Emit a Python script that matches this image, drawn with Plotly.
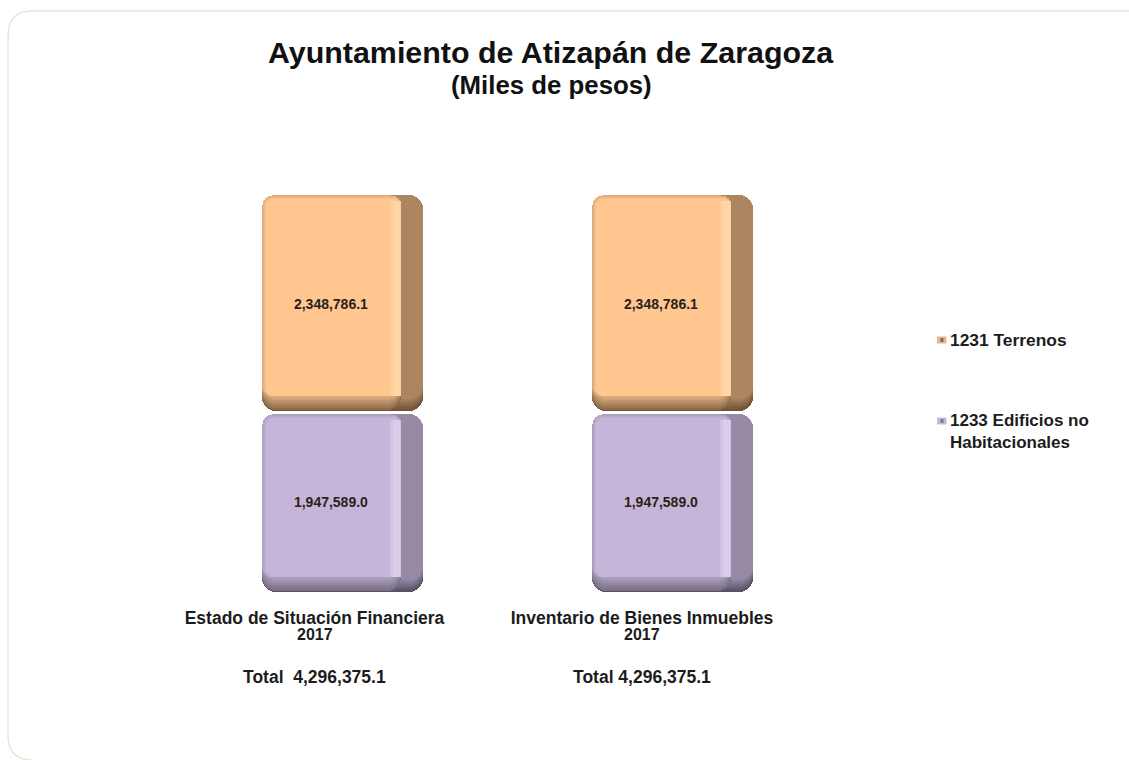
import plotly.graph_objects as go

# ---- data ----
categories = ["Estado de Situación Financiera", "Inventario de Bienes Inmuebles"]
years = ["2017", "2017"]
totals = ["Total  4,296,375.1", "Total 4,296,375.1"]
terrenos = [2348786.1, 2348786.1]
edificios = [1947589.0, 1947589.0]
series_names = ["1231 Terrenos", "1233 Edificios no<br>Habitacionales"]

# ---- layout helpers (pixels of the 1129x760 page) ----
W, H = 1129, 760
BASE_PX = 592.0
K = sum([terrenos[0], edificios[0]]) / 397.0      # value per pixel
C0, STEP = 342.5, 330.0                            # bar centre, bar spacing
FONT = "Liberation Sans"
INK = "#1c1c1c"

def xd(px):
    return (px - C0) / STEP

tick_pos = [xd(314.5), xd(642.0)]

orange = dict(edge="#6f5238", side="#ad8560", low="#8f6c4c", rim="#d9ab7d",
              face="#ffc690", shine="#ffd6a6")
purple = dict(edge="#585064", side="#968aa6", low="#7a7088", rim="#ab9ebc",
              face="#c5b6d9", shine="#d9cdea")

def lerp(c1, c2, t):
    a = [int(c1[i:i + 2], 16) for i in (1, 3, 5)]
    b = [int(c2[i:i + 2], 16) for i in (1, 3, 5)]
    return "#" + "".join(f"{round(x + (y - x) * t):02x}" for x, y in zip(a, b))

fig = go.Figure()

def layer(base, val, x0, x1, top, bottom, color, radius):
    fig.add_trace(go.Bar(
        x=[0, 1], y=[v - (top + bottom) * K for v in val],
        base=[b + bottom * K for b in base],
        width=(x1 - x0) / STEP, offset=(x0 - C0) / STEP,
        marker=dict(color=color, line=dict(width=0), cornerradius=radius),
        showlegend=False, hoverinfo="skip"))

def segment(base, val, p, t, b, name):
    # dark side face, fading into the bottom edge
    for i in range(7):
        layer(base, val, 262, 423, t, b + i * 2, lerp(p["edge"], p["side"], i / 6), 14)
    # front face: bottom bevel
    for i in range(7):
        layer(base, val, 262, 401, t, b + 1 + i * 2, lerp(p["low"], p["rim"], i / 6), 14)
    # front face: left and top bevel
    for i in range(4):
        layer(base, val, 263 + i, 401, t + 1 + i, b + 15, lerp(p["rim"], p["face"], (i + 1) / 4), 8)
    # highlight next to the side face
    layer(base, val, 390, 401, t + 6, b + 15, lerp(p["face"], p["shine"], 0.5), 0)
    layer(base, val, 393, 400, t + 6, b + 15, p["shine"], 0)
    # transparent carrier of the value label, centred on the front face
    fig.add_trace(go.Bar(
        x=[0, 1], y=val, base=base, name=name,
        width=138 / STEP, offset=(262 - C0) / STEP,
        marker=dict(color="rgba(0,0,0,0)", line=dict(width=0)),
        text=[f"{v:,.1f}" for v in val], textposition="inside", insidetextanchor="middle",
        textangle=0, constraintext="none",
        textfont=dict(family=FONT, size=14, color="#2a1f1a", weight="bold"),
        showlegend=False, hoverinfo="skip"))

segment([0, 0], edificios, purple, 1.5, 0, series_names[1])
segment(edificios, terrenos, orange, 0, 1.5, series_names[0])

# ---- card outline ----
def px(x): return x / W
def py(y): return 1 - y / H

shapes = [dict(type="path", xref="paper", yref="paper", layer="below",
               path=f"M {px(1129)} {py(11)} L {px(32)} {py(11)} Q {px(8)} {py(11)} {px(8)} {py(36)} "
                    f"L {px(8)} {py(735)} Q {px(8)} {py(760)} {px(32)} {py(760)}",
               line=dict(color="#e6e6df", width=1.5))]

# ---- legend swatches ----
for y, c1, c2 in [(340, "#e2b690", "#8a6a4c"), (421, "#c4bad2", "#7f7690")]:
    shapes.append(dict(type="rect", xref="paper", yref="paper", x0=px(937), x1=px(946.5),
                       y0=py(y - 3.5), y1=py(y + 3.5), fillcolor=c1, line=dict(width=0)))
    shapes.append(dict(type="rect", xref="paper", yref="paper", x0=px(940.5), x1=px(943.5),
                       y0=py(y - 2), y1=py(y + 2), fillcolor=c2, line=dict(width=0)))

def note(x, y, text, size, anchor="center", xref="paper", align="center", color=INK):
    return dict(x=x, y=py(y), xref=xref, yref="paper", text=f"<b>{text}</b>", showarrow=False,
                xanchor=anchor, yanchor="middle", align=align,
                font=dict(family=FONT, size=size, color=color))

annotations = [
    note(px(550.5), 52, "Ayuntamiento de Atizapán de Zaragoza", 30.4, color="#111111"),
    note(px(551.5), 85, "(Miles de pesos)", 25.8, color="#111111"),
    note(tick_pos[0], 634.5, years[0], 16, xref="x"),
    note(tick_pos[1], 634.5, years[1], 16, xref="x"),
    note(tick_pos[0], 677, totals[0], 17.5, xref="x"),
    note(tick_pos[1], 677, totals[1], 17.5, xref="x"),
    note(px(948), 340, series_names[0], 17.4, anchor="left", align="left"),
    note(px(948), 431.5, series_names[1], 17, anchor="left", align="left"),
]

fig.update_layout(
    width=W, height=H, margin=dict(l=0, r=0, t=0, b=0, autoexpand=False),
    barmode="overlay", bargap=0,
    paper_bgcolor="#ffffff", plot_bgcolor="rgba(0,0,0,0)",
    showlegend=False, shapes=shapes, annotations=annotations,
    xaxis=dict(domain=[0, 1], range=[xd(0), xd(W)], showgrid=False, zeroline=False, showline=False,
               tickmode="array", tickvals=tick_pos, ticktext=categories,
               ticks="outside", ticklen=10, tickcolor="rgba(0,0,0,0)", tickangle=0,
               tickfont=dict(family=FONT, size=17.5, color=INK, weight="bold")),
    yaxis=dict(domain=[(H - BASE_PX) / H, 1], range=[0, BASE_PX * K], visible=False),
)

fig.write_html("out.html", config={"displayModeBar": False},
               post_script="document.body.style.margin='0';document.body.style.overflow='hidden';")
